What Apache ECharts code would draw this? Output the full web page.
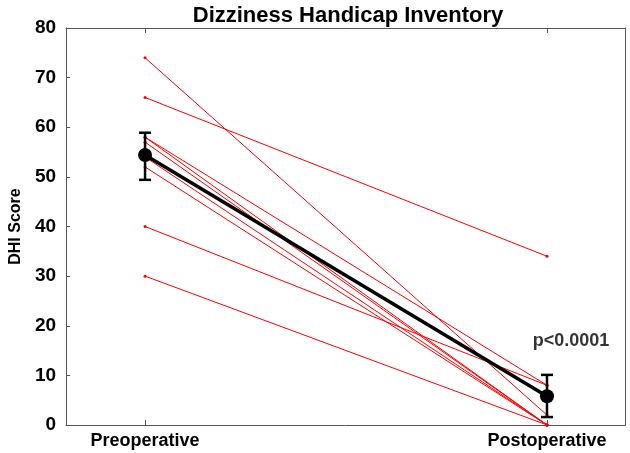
<!DOCTYPE html>
<html><head><meta charset="utf-8">
<script src="https://cdn.jsdelivr.net/npm/echarts@6/dist/echarts.min.js"></script>
<style>html,body{margin:0;padding:0;background:#fff}#c{width:630px;height:453px}</style>
</head><body><div id="c"></div>
<script>
var categories = ['Preoperative', 'Postoperative'];
var preValues = [74, 66, 58, 58, 57, 54, 52, 40, 30];
var postValues = [2, 34, 0, 8, 0, 0, 0, 8, 0];
var meanValues = [54.4, 5.8];
var errLow = [49.4, 1.6];
var errHigh = [58.9, 10.1];
var yTicks = [0, 10, 20, 30, 40, 50, 60, 70, 80];
var pLabel = 'p<0.0001';
var pLabelPos = [1.06, 17];

var FONT = '"Liberation Sans", Arial, sans-serif';
var series = [];
for (var i = 0; i < preValues.length; i++) {
  series.push({
    type: 'line', xAxisIndex: 0, yAxisIndex: 0,
    data: [[0, preValues[i]], [1, postValues[i]]],
    lineStyle: {color: '#ff0000', width: 1},
    itemStyle: {color: '#ff0000'},
    symbol: 'circle', symbolSize: 3, z: 2, silent: true, animation: false
  });
}
series.push({
  type: 'custom', xAxisIndex: 0, yAxisIndex: 0, z: 5, animation: false,
  data: [[0, errLow[0], errHigh[0]], [1, errLow[1], errHigh[1]]],
  renderItem: function (params, api) {
    var lo = api.coord([api.value(0), api.value(1)]);
    var hi = api.coord([api.value(0), api.value(2)]);
    var w = 6;
    var st = {stroke: '#000', lineWidth: 2.5};
    return {type: 'group', children: [
      {type: 'line', shape: {x1: lo[0], y1: lo[1], x2: hi[0], y2: hi[1]}, style: st},
      {type: 'line', shape: {x1: lo[0]-w, y1: lo[1], x2: lo[0]+w, y2: lo[1]}, style: st},
      {type: 'line', shape: {x1: hi[0]-w, y1: hi[1], x2: hi[0]+w, y2: hi[1]}, style: st}
    ]};
  }
});
series.push({
  type: 'line', xAxisIndex: 0, yAxisIndex: 0, z: 6, animation: false,
  data: [[0, meanValues[0]], [1, meanValues[1]]],
  lineStyle: {color: '#000', width: 3.5},
  itemStyle: {color: '#000'},
  symbol: 'circle', symbolSize: 14
});
series.push({
  type: 'scatter', xAxisIndex: 0, yAxisIndex: 0, z: 7, animation: false,
  data: [pLabelPos], symbolSize: 0,
  label: {show: true, position: 'inside', formatter: pLabel, color: '#000',
    fontFamily: FONT, fontWeight: 'bold', fontSize: 18}
});

var chart = echarts.init(document.getElementById('c'), null, {renderer: 'canvas'});
var axisLine = {show: true, onZero: false, lineStyle: {color: '#555', width: 1}};
var xMin = -0.1966, xMax = 1.1941;
chart.setOption({
  animation: false,
  backgroundColor: '#fff',
  title: {text: 'Dizziness Handicap Inventory', left: 343, top: 0, textAlign: 'center',
    textStyle: {fontFamily: FONT, fontWeight: 'bold', fontSize: 22, color: '#000'}},
  grid: {left: 59, right: 5, top: 28, bottom: 28, containLabel: false},
  xAxis: [{
    type: 'value', position: 'bottom', min: xMin, max: xMax,
    axisLine: axisLine, splitLine: {show: false},
    axisTick: {show: true, inside: true, length: 5, customValues: [0, 1], lineStyle: {color: '#555'}},
    axisLabel: {show: true, customValues: [0, 1], margin: 7,
      formatter: function (v) { return categories[Math.round(v)]; },
      fontFamily: FONT, fontWeight: 'bold', fontSize: 18, color: '#000'}
  }, {
    type: 'value', position: 'top', min: xMin, max: xMax,
    axisLine: axisLine, splitLine: {show: false},
    axisTick: {show: true, inside: true, length: 5, customValues: [0, 1], lineStyle: {color: '#555'}},
    axisLabel: {show: false}
  }],
  yAxis: [{
    type: 'value', min: 0, max: 80, interval: 10, position: 'left',
    name: 'DHI Score', nameLocation: 'middle', nameGap: 38, nameRotate: 90,
    nameTextStyle: {fontFamily: FONT, fontWeight: 'bold', fontSize: 16, color: '#000'},
    axisLine: axisLine, splitLine: {show: false},
    axisTick: {show: true, inside: true, length: 4, lineStyle: {color: '#555'}},
    axisLabel: {fontFamily: FONT, fontWeight: 'bold', fontSize: 19, color: '#000', margin: 10,
      customValues: yTicks}
  }, {
    type: 'value', min: 0, max: 80, interval: 10, position: 'right',
    axisLine: axisLine, splitLine: {show: false},
    axisTick: {show: false}, axisLabel: {show: false}
  }],
  series: series
});
</script></body></html>
